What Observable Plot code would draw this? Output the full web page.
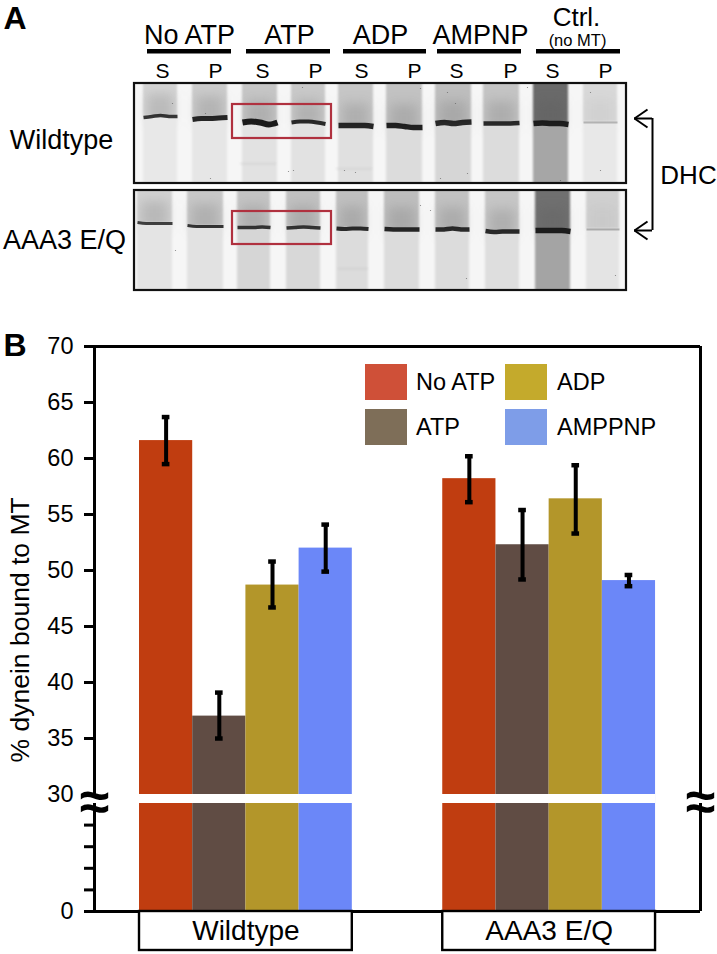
<!DOCTYPE html>
<html><head><meta charset="utf-8">
<script src="https://cdn.jsdelivr.net/npm/d3@7"></script>
<script src="https://cdn.jsdelivr.net/npm/@observablehq/plot@0.6"></script>
<style>
html,body{margin:0;padding:0;background:#fff}
#fig{position:relative;width:717px;height:954px;font-family:"Liberation Sans",Arial,sans-serif;color:#000;overflow:hidden}
#fig svg{display:block;background:#fff;font-family:"Liberation Sans",Arial,sans-serif}
.lg{position:absolute}
.lt{position:absolute;font-size:23.5px;line-height:36px;white-space:nowrap}
</style></head><body><div id="fig"></div>
<script>
// ---------- Panel B data ----------
const groups = ["Wildtype", "AAA3 E/Q"];
const series = ["No ATP", "ATP", "ADP", "AMPPNP"];
const wildtypeValues = [61.6, 37.0, 48.7, 52.0];
const wildtypeLow    = [59.5, 35.0, 46.7, 49.9];
const wildtypeHigh   = [63.7, 39.1, 50.8, 54.1];
const mutantValues   = [58.2, 52.3, 56.4, 49.1];
const mutantLow      = [56.1, 49.2, 53.3, 48.6];
const mutantHigh     = [60.2, 55.4, 59.4, 49.6];
const barColors = ["#c03d10", "#604c44", "#b3962a", "#6b87f8"];
const legendColors = ["#cf5038", "#7e6e58", "#c4aa2c", "#7e9de8"];
const yTicks = [0, 6, 12, 18, 24, 30.001, 35, 40, 45, 50, 55, 60, 65, 70];

// ---------- Panel A data ----------
const laneTypes = ["S","P","S","P","S","P","S","P","S","P"];
const conditionNames = ["No ATP","ATP","ADP","AMPNP","Ctrl."];
const conditionStart = [147,246,343,437,536];
const conditionEnd   = [231,330,426,521,620];
const conditionLabelX = [189,289,380,480];
const laneLabelX = [162,215,262,315,361,414,456,510,552,605];
const wtLeft  = [143,192,242,291,338,386,435,483,533,583];
const wtRight = [177,227,277,325,373,422,471,519,568,617];
const wtBand  = [116,118,122,122,125,126,123,123,123,122];
const wtThick = [3.5,5,6,4,5.5,5.5,5.5,4.5,5.5,1.8];
const wtDark  = [.85,.92,.98,.9,.92,.95,.9,.9,.95,.25];
const wtUpper = ["#d4d4d4","#cccccc","#c6c6c6","#c9c9c9","#c6c6c6","#c2c2c2","#bebebe","#c4c4c4","#6a6a6a","#d8d8d8"];
const wtLower = ["#e8e8e8","#e6e6e6","#e2e2e2","#e2e2e2","#e0e0e0","#dcdcdc","#d6d6d6","#dcdcdc","#a6a6a6","#e8e8e8"];
const wtWave  = [[1,0,-1,0,0],[1,0,0,-.5,-1],[0,-1,0,2,0],[0,-1,-1,0,1.5],[0,0,0,0,1],[-1,-1,0,1,1],[0,-1,0,-1,-1.5],[0,0,0,0,-.5],[0,-.5,0,0,1],[0,0,0,0,0]];
const eqLeft  = [137,187,237,286,336,384,435,485,535,586];
const eqRight = [172,223,270,320,368,419,469,519,570,619];
const eqBand  = [223,226,227,227,228,229,229,231,230,229];
const eqThick = [3,3,3.5,3.5,4,4.5,4.5,4.5,5.5,1.8];
const eqDark  = [.8,.85,.85,.85,.9,.92,.9,.9,.95,.28];
const eqUpper = ["#d2d2d2","#c8c8c8","#c4c4c4","#c2c2c2","#c0c0c0","#bebebe","#c2c2c2","#c6c6c6","#707070","#d0d0d0"];
const eqLower = ["#e4e4e4","#e2e2e2","#d6d6d6","#d8d8d8","#dcdcdc","#dcdcdc","#dcdcdc","#dedede","#a4a4a4","#e4e4e4"];
const eqWave  = [[-1,0,0,0,0],[-1,0,0,0,0],[0,0,0,-.5,0],[.5,0,-.5,0,.5],[0,.5,0,0,.5],[-.5,0,0,0,0],[0,0,-1,0,0],[-.5,.5,0,0,0],[0,0,0,0,1],[0,0,0,0,0]];
const gelTop = [83,190];
const gelBottom = [183,290];
const gelLabels = ["Wildtype","AAA3 E/Q"];
const specksX = [288,293,344,355,302,210,205,172,420,447,455,467,527,560,590,600,175,420,430,440,466,615];
const specksY = [171,170,170,172,87,178,113,103,88,92,103,173,87,180,92,170,250,205,210,178,278,275];
const faintX1 = [240,336,338];
const faintX2 = [276,372,368];
const faintY  = [163,168,268];

// ---------- Panel A ----------
const gelLeft = 134, gelRight = 626;
const lanes = [];
laneTypes.forEach((t,i)=>{
  lanes.push({p:0,lane:i,x1:wtLeft[i],x2:wtRight[i],band:wtBand[i],thick:wtThick[i],dark:wtDark[i],upper:wtUpper[i],lower:wtLower[i],wave:wtWave[i]});
  lanes.push({p:1,lane:i+10,x1:eqLeft[i],x2:eqRight[i],band:eqBand[i],thick:eqThick[i],dark:eqDark[i],upper:eqUpper[i],lower:eqLower[i],wave:eqWave[i]});
});
const bandPoints = lanes.flatMap(l=>l.wave.map((w,k)=>({lane:l.lane,x:l.x1+(l.x2-l.x1)*k/4,y:l.band+w,dark:l.dark,thick:l.thick})));
const panelIdx = [0,1];
const masks = [
  {x1:0,x2:gelLeft,y1:60,y2:300},{x1:gelRight,x2:717,y1:60,y2:300},
  {x1:gelLeft,x2:gelRight,y1:60,y2:gelTop[0]},{x1:gelLeft,x2:gelRight,y1:gelBottom[0],y2:gelTop[1]},
  {x1:gelLeft,x2:gelRight,y1:gelBottom[1],y2:300}
];
const upperRect = l => ({x1:l.x1,x2:l.x2,y1:gelTop[l.p]-4,y2:l.band,fill:l.upper});
const lowerRect = l => ({x1:l.x1,x2:l.x2,y1:l.band,y2:gelBottom[l.p]+4,fill:l.lower});
const bracketX = 652, arrowTip = 634, wingX = 647, wingY = 9;
const bracketY = [118, 230];
const thickMarks = [...new Set(bandPoints.map(d=>d.thick))].map(t=>
  Plot.line(bandPoints.filter(d=>d.thick===t),{x:"x",y:"y",z:"lane",curve:"catmull-rom",stroke:"#151515",strokeOpacity:"dark",strokeWidth:t,strokeLinecap:"butt",imageFilter:"blur(0.6px)"}));
const plotA = Plot.plot({
  width:717,height:300,margin:0,
  x:{domain:[0,717],range:[0,717],axis:null},
  y:{domain:[0,300],range:[0,300],axis:null},
  marks:[
    Plot.rect(panelIdx,{x1:gelLeft,x2:gelRight,y1:i=>gelTop[i],y2:i=>gelBottom[i],fill:"#f6f6f6"}),
    Plot.rect(lanes.map(upperRect),{x1:"x1",x2:"x2",y1:"y1",y2:"y2",fill:"fill",imageFilter:"blur(1.2px)"}),
    Plot.rect(lanes,{x1:l=>l.x1+4,x2:l=>l.x2-4,y1:l=>l.band-22,y2:l=>l.band+6,fill:"#555",fillOpacity:l=>l.lane===9||l.lane===19?.05:.2,imageFilter:"blur(6px)"}),
    Plot.rect(lanes.map(lowerRect),{x1:"x1",x2:"x2",y1:"y1",y2:"y2",fill:"fill",imageFilter:"blur(1.2px)"}),
    Plot.rect(faintY,{x1:(d,i)=>faintX1[i],x2:(d,i)=>faintX2[i],y1:d=>d,y2:d=>d+1.5,fill:"#bbb",fillOpacity:.35,imageFilter:"blur(0.8px)"}),
    ...thickMarks,
    Plot.dot(specksX,{x:d=>d,y:(d,i)=>specksY[i],r:.6,fill:"#555",fillOpacity:.7,stroke:"none"}),
    Plot.rect(masks,{x1:"x1",x2:"x2",y1:"y1",y2:"y2",fill:"white"}),
    Plot.rect(panelIdx,{x1:gelLeft,x2:gelRight,y1:i=>gelTop[i],y2:i=>gelBottom[i],stroke:"#111",strokeWidth:2.2,fill:"none"}),
    Plot.rect(panelIdx,{x1:232,x2:331,y1:i=>[104,211][i],y2:i=>[138,244][i],stroke:"#b0313f",strokeWidth:2.2,fill:"none"}),
    Plot.rect(conditionNames,{x1:(d,i)=>conditionStart[i],x2:(d,i)=>conditionEnd[i],y1:49,y2:53.5,fill:"black"}),
    Plot.text(conditionNames.slice(0,4),{x:(d,i)=>conditionLabelX[i],y:35,text:d=>d,fontSize:27}),
    Plot.text(["Ctrl."],{x:576,y:17,text:d=>d,fontSize:26}),
    Plot.text(["(no MT)"],{x:577,y:40,text:d=>d,fontSize:16.5}),
    Plot.text(laneTypes,{x:(d,i)=>laneLabelX[i],y:71,text:d=>d,fontSize:21}),
    Plot.text(gelLabels,{x:(d,i)=>[61,64][i],y:(d,i)=>[140,240][i],text:d=>d,fontSize:27}),
    Plot.text(["A"],{x:3,y:18,text:d=>d,textAnchor:"start",fontSize:32,fontWeight:"bold"}),
    Plot.text(["DHC"],{x:688,y:175,text:d=>d,fontSize:26}),
    Plot.ruleX([bracketX],{y1:bracketY[0],y2:bracketY[1],stroke:"black",strokeWidth:2}),
    Plot.ruleY(bracketY,{x1:arrowTip,x2:bracketX,stroke:"black",strokeWidth:2}),
    Plot.link(bracketY.flatMap(y=>[[y,-wingY],[y,wingY]]),{x1:arrowTip,x2:wingX,y1:d=>d[0],y2:d=>d[0]+d[1],stroke:"black",strokeWidth:2})
  ]
});

// ---------- Panel B ----------
const gapSlots = 5.7;
const bars = [];
const addGroup = (g,off,vals,lo,hi)=>series.forEach((s,i)=>bars.push({group:g,series:s,i,x1:off+i,x2:off+i+1,v:vals[i],lo:lo[i],hi:hi[i]}));
addGroup(groups[0],0,wildtypeValues,wildtypeLow,wildtypeHigh);
addGroup(groups[1],gapSlots,mutantValues,mutantLow,mutantHigh);
const xMin=-0.846, xMax=10.545, below=-10.6, brk=30.001;
const capHalf=0.072;
const boxes = groups.map((g,i)=>({g,x1:i?gapSlots:0,x2:(i?gapSlots:0)+4}));
// broken axis: values are remapped so that the part below 30 is compressed
const brokenY = d3.scaleLinear().domain([below,0,30,brk,70]).range([-39,0,108,117,565]);
const plotB = Plot.plot({
  width:717,height:654,marginLeft:94,marginRight:17,marginTop:46,marginBottom:4,
  x:{domain:[xMin,xMax],range:[94,700],axis:null},
  y:{transform:v=>brokenY(v),domain:[-39,565],range:[650,46],axis:null},
  color:{domain:series,range:barColors},
  marks:[
    Plot.rectY(bars,{x1:"x1",x2:"x2",y1:0,y2:"v",fill:"series"}),
    Plot.rect([0],{x1:0,x2:gapSlots+4,y1:30,y2:brk,fill:"white"}),
    Plot.ruleX(bars,{x:d=>d.x1+.5,y1:"lo",y2:"hi",stroke:"black",strokeWidth:4}),
    Plot.ruleY(bars,{x1:d=>d.x1+.5-capHalf,x2:d=>d.x1+.5+capHalf,y:"hi",stroke:"black",strokeWidth:4.5}),
    Plot.ruleY(bars,{x1:d=>d.x1+.5-capHalf,x2:d=>d.x1+.5+capHalf,y:"lo",stroke:"black",strokeWidth:4.5}),
    Plot.ruleX([xMin],{y1:0,y2:30,stroke:"black",strokeWidth:3}),
    Plot.ruleX([xMin],{y1:brk,y2:70,stroke:"black",strokeWidth:3}),
    Plot.ruleX([xMax],{y1:0,y2:30,stroke:"black",strokeWidth:3}),
    Plot.ruleX([xMax],{y1:brk,y2:70,stroke:"black",strokeWidth:3}),
    Plot.ruleY([70],{x1:xMin,x2:xMax,stroke:"black",strokeWidth:3}),
    Plot.ruleY([0],{x1:xMin,x2:xMax,stroke:"black",strokeWidth:3}),
    Plot.axisY(yTicks,{tickSize:10,tickPadding:11,fontSize:23.5,strokeWidth:3,label:null,
      tickFormat:d=>(d===0||d>=30)?String(Math.round(d)):""}),
    Plot.text([xMin,xMax],{x:d=>d,y:30,dy:-1,text:()=>"≈",fontSize:54,fontWeight:"bold"}),
    Plot.text(["% dynein bound to MT"],{frameAnchor:"left",textAnchor:"middle",dx:-74,y:44.7,rotate:-90,text:d=>d,fontSize:26.5}),
    Plot.text(["B"],{frameAnchor:"left",textAnchor:"start",dx:-91,y:70.1,text:d=>d,fontSize:32,fontWeight:"bold"}),
    Plot.rect(boxes,{x1:"x1",x2:"x2",y1:below,y2:0,fill:"white",stroke:"black",strokeWidth:2.4}),
    Plot.text(boxes,{x:d=>(d.x1+d.x2)/2,y:below/2,text:"g",fontSize:28})
  ]
});

const fig = document.getElementById("fig");
fig.append(plotA, plotB);
// legend
const legendBoxX=[365,505], legendBoxY=[364,409], legendTextX=[416,557];
series.forEach((s,i)=>{
  const col = i>=2?1:0, row=i%2;
  const b=document.createElement("div");
  b.className="lg";
  b.style.cssText=`left:${legendBoxX[col]}px;top:${legendBoxY[row]}px;width:42px;height:36px;background:${legendColors[i]}`;
  const t=document.createElement("div");
  t.className="lt"; t.textContent=s;
  t.style.cssText=`left:${legendTextX[col]}px;top:${legendBoxY[row]}px`;
  fig.append(b,t);
});
</script></body></html>
